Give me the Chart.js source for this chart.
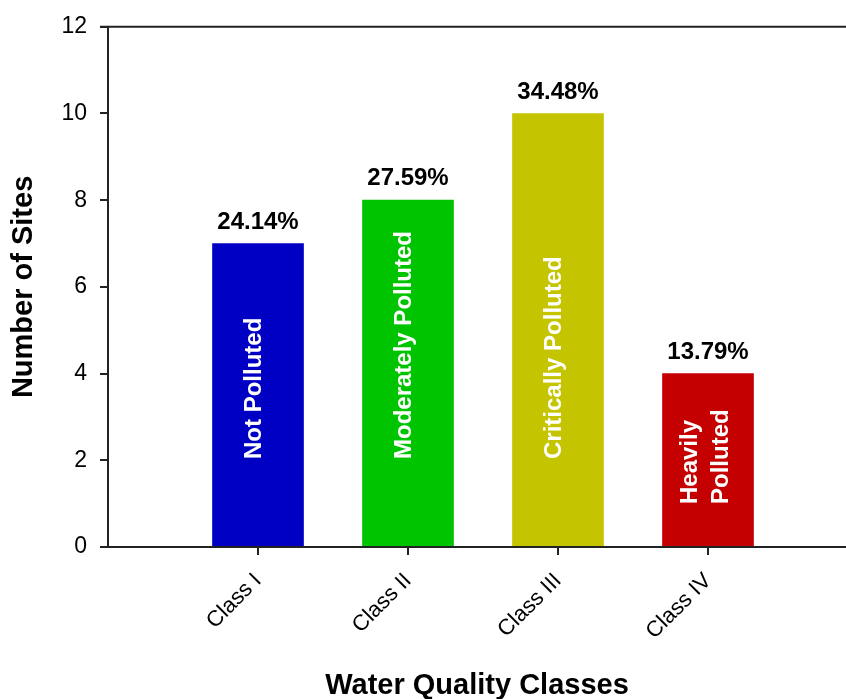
<!DOCTYPE html>
<html>
<head>
<meta charset="utf-8">
<script src="https://cdn.jsdelivr.net/npm/chart.js@4/dist/chart.umd.min.js"></script>
<style>
  html, body { margin: 0; padding: 0; background: #fff; overflow: hidden; }
  canvas { display: block; }
</style>
</head>
<body>
<canvas id="bar_chart" width="846" height="699"></canvas>
<script>
var categories = ["Class I", "Class II", "Class III", "Class IV"];
var sites = [7, 8, 10, 4];
var percents = ["24.14%", "27.59%", "34.48%", "13.79%"];
var barNames = [["Not Polluted"], ["Moderately Polluted"], ["Critically Polluted"], ["Heavily", "Polluted"]];
var barColors = ["#0000c4", "#00c400", "#c4c400", "#c40000"];
var yTicks = [0, 2, 4, 6, 8, 10, 12];

var FONT = "Arial, 'Liberation Sans', sans-serif";

// frame lines (top and bottom) that run a little past the y axis
var frame = {
    id: 'frame',
    afterDraw: function (chart) {
        var c = chart.ctx, a = chart.chartArea;
        c.save();
        c.strokeStyle = '#222';
        c.lineWidth = 2;
        c.beginPath();
        c.moveTo(a.left - 8, a.top); c.lineTo(a.right, a.top);
        c.moveTo(a.left - 8, a.bottom); c.lineTo(a.right, a.bottom);
        c.stroke();
        c.restore();
    }
};

// percent on top of each bar, class name inside the bar
var barText = {
    id: 'barText',
    afterDatasetsDraw: function (chart) {
        var c = chart.ctx;
        var meta = chart.getDatasetMeta(0);
        c.save();
        meta.data.forEach(function (bar, i) {
            c.fillStyle = '#000';
            c.font = 'bold 24px ' + FONT;
            c.textAlign = 'center';
            c.textBaseline = 'alphabetic';
            c.fillText(percents[i], bar.x, bar.y - 15);

            var lines = barNames[i];
            c.save();
            c.fillStyle = '#fff';
            c.font = 'bold 24px ' + FONT;
            c.textAlign = 'left';
            var start = lines.length > 1 ? bar.base - 42 : bar.base - 87;
            c.translate(bar.x, start);
            c.rotate(-Math.PI / 2);
            lines.forEach(function (t, k) {
                var off = lines.length > 1 ? (k === 0 ? -11 : 20) : 3;
                c.fillText(t, 0, off);
            });
            c.restore();
        });
        c.restore();
    }
};

var ctx = document.getElementById("bar_chart");

var myBarChart = new Chart(ctx, {
    type: 'bar',
    data: {
        datasets: [{
            data: categories.map(function (c, i) { return { x: i + 1, y: sites[i] }; }),
            backgroundColor: barColors,
            borderWidth: 0,
            barThickness: 91
        }]
    },
    options: {
        responsive: false,
        animation: false,
        layout: { padding: { top: 26, right: 0, left: 0, bottom: 0 } },
        plugins: { legend: { display: false }, tooltip: { enabled: false } },
        scales: {
            x: {
                type: 'linear',
                offset: false,
                min: 0,
                max: 4.92,
                afterBuildTicks: function (scale) {
                    scale.ticks = categories.map(function (c, i) { return { value: i + 1 }; });
                },
                afterFit: function (scale) { scale.height = 152; },
                ticks: {
                    autoSkip: false,
                    maxRotation: 45,
                    minRotation: 45,
                    padding: 13,
                    color: '#000',
                    font: { family: FONT, size: 22 },
                    callback: function (v) { return categories[v - 1]; }
                },
                grid: { offset: false, drawOnChartArea: false, drawTicks: true, tickLength: 8, color: '#222', lineWidth: 2 },
                border: { display: false },
                title: {
                    display: true,
                    text: 'Water Quality Classes',
                    color: '#000',
                    padding: { top: 0, bottom: -1 },
                    font: { family: FONT, size: 29, weight: 'bold', lineHeight: 1 }
                }
            },
            y: {
                min: 0,
                max: 12,
                afterBuildTicks: function (scale) {
                    scale.ticks = yTicks.map(function (v) { return { value: v }; });
                },
                afterFit: function (scale) { scale.width = 108; },
                ticks: {
                    padding: 13,
                    color: '#000',
                    font: { family: FONT, size: 23 }
                },
                grid: { drawOnChartArea: false, drawTicks: true, tickLength: 8, color: '#222', lineWidth: 2 },
                border: { display: true, color: '#222', width: 2 },
                title: {
                    display: true,
                    text: 'Number of Sites',
                    color: '#000',
                    padding: { top: 9, bottom: 0 },
                    font: { family: FONT, size: 29, weight: 'bold', lineHeight: 1 }
                }
            }
        }
    },
    plugins: [frame, barText]
});
</script>
</body>
</html>
